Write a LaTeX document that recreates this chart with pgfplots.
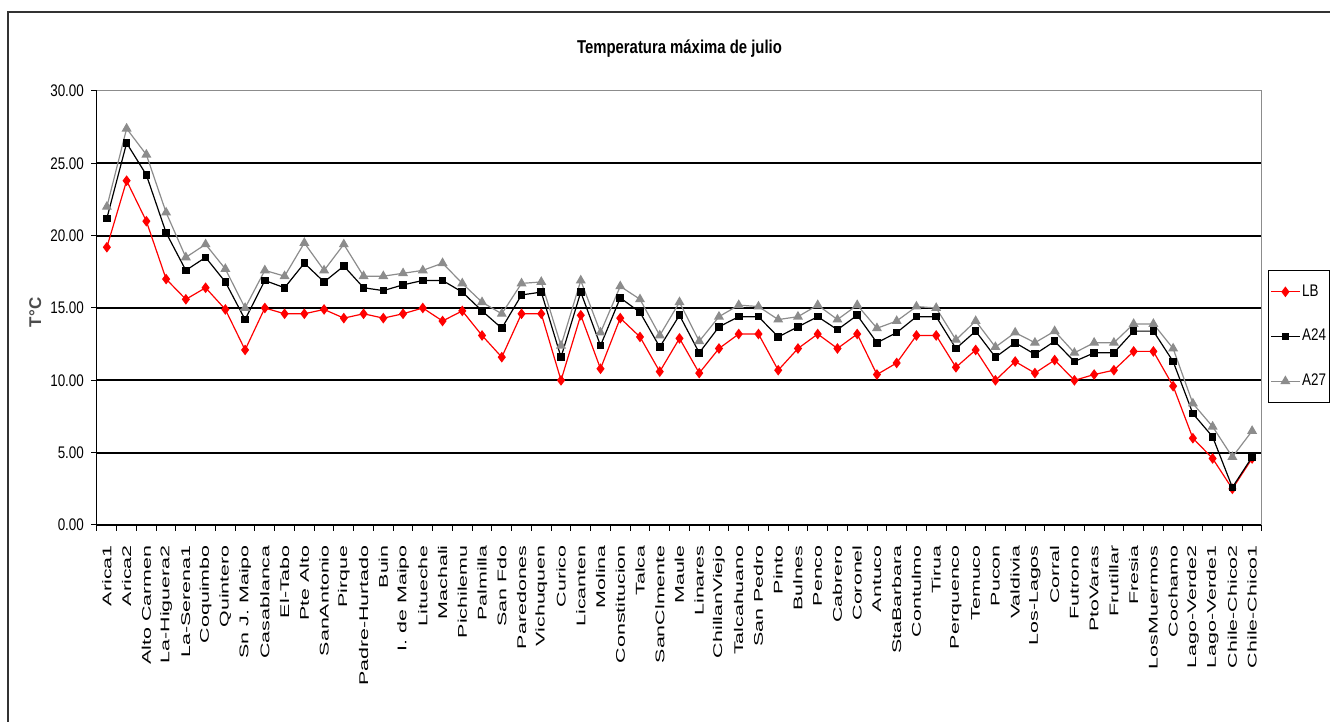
\documentclass[border=0pt]{standalone}
\usepackage{fontspec}
\setmainfont{Liberation Sans}
\newfontfamily\condfont{Liberation Sans}[FakeStretch=0.8]
\newfontfamily\rotfont{Liberation Sans}[FakeStretch=1.7]
\usepackage{pgfplots}
\usepackage{pgfplotstable}
\pgfplotsset{compat=1.18}

\pgfplotstableread{
idx LB A24 A27
1 19.2 21.2 22.0
2 23.8 26.4 27.4
3 21.0 24.2 25.6
4 17.0 20.2 21.6
5 15.6 17.6 18.5
6 16.4 18.5 19.4
7 14.9 16.8 17.7
8 12.1 14.2 15.0
9 15.0 16.9 17.6
10 14.6 16.4 17.2
11 14.6 18.1 19.5
12 14.9 16.8 17.6
13 14.3 17.9 19.4
14 14.6 16.4 17.2
15 14.3 16.2 17.2
16 14.6 16.6 17.4
17 15.0 16.9 17.6
18 14.1 16.9 18.1
19 14.8 16.1 16.7
20 13.1 14.8 15.4
21 11.6 13.6 14.6
22 14.6 15.9 16.7
23 14.6 16.1 16.8
24 10.0 11.6 12.4
25 14.5 16.1 16.9
26 10.8 12.4 13.3
27 14.3 15.7 16.5
28 13.0 14.7 15.6
29 10.6 12.3 13.1
30 12.9 14.5 15.4
31 10.5 11.9 12.7
32 12.2 13.7 14.4
33 13.2 14.4 15.2
34 13.2 14.4 15.1
35 10.7 13.0 14.2
36 12.2 13.7 14.4
37 13.2 14.4 15.2
38 12.2 13.5 14.2
39 13.2 14.5 15.2
40 10.4 12.6 13.6
41 11.2 13.3 14.1
42 13.1 14.4 15.1
43 13.1 14.4 15.0
44 10.9 12.2 12.8
45 12.1 13.4 14.1
46 10.0 11.6 12.3
47 11.3 12.6 13.3
48 10.5 11.8 12.6
49 11.4 12.7 13.4
50 10.0 11.3 11.9
51 10.4 11.9 12.6
52 10.7 11.9 12.6
53 12.0 13.4 13.9
54 12.0 13.4 13.9
55 9.6 11.3 12.2
56 6.0 7.7 8.4
57 4.6 6.1 6.8
58 2.5 2.6 4.7
59 4.6 4.7 6.5
}\datatable

\begin{document}
\begin{tikzpicture}
\path[use as bounding box] (0,0) rectangle (665pt,361pt);
\draw[line width=1pt, black!80] (4pt,-2pt) -- (4pt,355pt) -- (667pt,355pt);
\begin{axis}[
  at={(48.5pt,98.5pt)}, anchor=south west,
  scale only axis, width=582.5pt, height=217pt,
  xmin=0.5, xmax=59.5, ymin=0, ymax=30,
  axis x line*=bottom, axis y line*=left,
  axis line style={-},
  x axis line style={line width=1pt},
  y axis line style={line width=0.5pt},
  tick align=outside, major tick length=3pt,
  tick style={black, line width=0.5pt},
  xtick={0.5,1.5,...,59.5}, xticklabels={},
  extra x ticks={1,...,59},
  extra x tick labels={Arica1,Arica2,Alto Carmen,La-Higuera2,La-Serena1,Coquimbo,Quintero,Sn J. Maipo,Casablanca,El-Tabo,Pte Alto,SanAntonio,Pirque,Padre-Hurtado,Buin,I. de Maipo,Litueche,Machali,Pichilemu,Palmilla,San Fdo,Paredones,Vichuquen,Curico,Licanten,Molina,Constitucion,Talca,SanClmente,Maule,Linares,ChillanViejo,Talcahuano,San Pedro,Pinto,Bulnes,Penco,Cabrero,Coronel,Antuco,StaBarbara,Contulmo,Tirua,Perquenco,Temuco,Pucon,Valdivia,Los-Lagos,Corral,Futrono,PtoVaras,Frutillar,Fresia,LosMuermos,Cochamo,Lago-Verde2,Lago-Verde1,Chile-Chico2,Chile-Chico1},
  extra x tick style={major tick length=0pt},
  xticklabel shift=10pt,
  xticklabel style={font=\rotfont\fontsize{6.3}{7}\selectfont, rotate=90, anchor=east, inner sep=0pt},
  ytick={0,5,...,30},
  extra y ticks={5,10,...,25}, extra y tick labels={},
  extra y tick style={grid=major, major grid style={black, line width=1pt}},
  yticklabel style={font=\condfont\fontsize{8.4}{9}\selectfont, /pgf/number format/.cd, fixed, fixed zerofill, precision=2, assume math mode=true},
  title={Temperatura máxima de julio},
  title style={font=\condfont\bfseries\fontsize{9.3}{10}\selectfont, at={(0.5,1)}, anchor=center, yshift=15pt},
  ylabel={T°C},
  ylabel style={at={(axis description cs:-0.053,0.49)}, anchor=center, font=\bfseries\fontsize{8.5}{9}\selectfont, text=black!70},
  legend style={at={(1.005,0.588)}, anchor=north west, draw=black, line width=0.75pt, font=\condfont\fontsize{8.4}{9}\selectfont, row sep=11pt, inner ysep=5pt, inner xsep=1pt, nodes={inner xsep=1pt}},
  legend cell align=left,
  legend image code/.code={\draw[mark repeat=2,mark phase=2] plot coordinates {(0cm,0cm) (0.25cm,0cm) (0.5cm,0cm)};},
]
\draw[black!45, line width=0.5pt] (rel axis cs:0,1) -- (rel axis cs:1,1) -- (rel axis cs:1,0);
\addplot[red, line width=0.6pt, mark=diamond*, mark size=2.2pt, mark options={solid, fill=red}] table[x=idx,y=LB]{\datatable};
\addlegendentry{LB}
\addplot[black, line width=0.6pt, mark=square*, mark size=1.6pt, mark options={solid}] table[x=idx,y=A24]{\datatable};
\addlegendentry{A24}
\addplot[black!45, line width=0.6pt, mark=triangle*, mark size=2.3pt, mark options={solid}] table[x=idx,y=A27]{\datatable};
\addlegendentry{A27}
\end{axis}
\end{tikzpicture}
\end{document}
